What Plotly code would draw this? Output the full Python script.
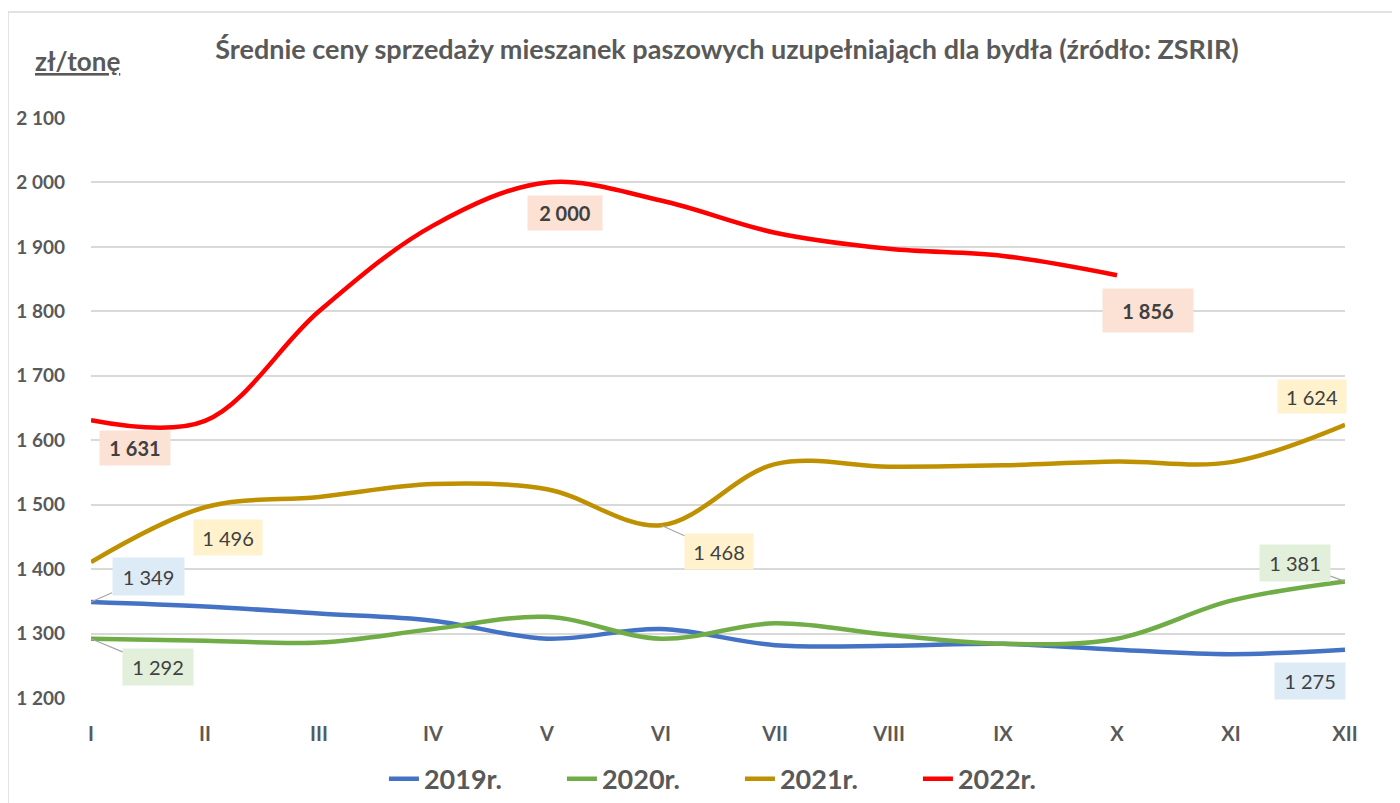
import plotly.graph_objects as go

months = ["I", "II", "III", "IV", "V", "VI", "VII", "VIII", "IX", "X", "XI", "XII"]
y2019 = [1349, 1342, 1331, 1320, 1292, 1307, 1282, 1281, 1284, 1275, 1268, 1275]
y2020 = [1292, 1289, 1286, 1307, 1326, 1292, 1316, 1298, 1284, 1292, 1351, 1381]
y2021 = [1411, 1496, 1512, 1532, 1524, 1468, 1563, 1559, 1561, 1567, 1566, 1624]
y2022 = [1631, 1630, 1800, 1933, 2000, 1972, 1922, 1897, 1886, 1856]

series = [
    ("2019r.", y2019, "#4472C4", "#DDEBF7"),
    ("2020r.", y2020, "#70AD47", "#E2EFDA"),
    ("2021r.", y2021, "#BF9000", "#FFF2CC"),
    ("2022r.", y2022, "#FF0000", "#FBE2D5"),
]

FONT = "Lato"
GREY = "#595959"

fig = go.Figure()
for name, vals, col, _ in series:
    fig.add_trace(go.Scatter(
        x=list(range(len(vals))), y=vals, name=f"<b>{name}</b>", mode="lines",
        line=dict(color=col, width=4.5, shape="spline", smoothing=1.0),
    ))

def fmt(v):
    return f"{v:,}".replace(",", " ")

# (series index, point index, dx, dy (px, up positive), leader, box w, box h)
labels = [
    (0, 0, 57, 25, True, 57, 23),
    (0, 11, -35, -31, False, 56, 22),
    (1, 0, 67, -28, True, 56, 22),
    (1, 11, -50, 18, True, 56, 22),
    (2, 1, 23, -30, False, 54, 21),
    (2, 5, 58, -26, True, 54, 21),
    (2, 11, -33, 28, False, 54, 19),
    (3, 0, 44, -28, False, 56, 20),
    (3, 4, 18, -31, False, 60, 20),
    (3, 9, 31, -35, False, 76, 29),
]
for si, pi, dx, dy, leader, bw, bh in labels:
    name, vals, col, bg = series[si]
    bold = si == 3
    txt = fmt(vals[pi])
    if bold:
        txt = f"<b>{txt}</b>"
    common = dict(x=pi, y=vals[pi], xref="x", yref="y", text=txt,
                  bgcolor=bg, borderpad=7, width=bw, height=bh,
                  font=dict(family=FONT, size=20, color="#404040"))
    if leader:
        fig.add_annotation(**common, showarrow=True, arrowhead=0, arrowwidth=1.2,
                           arrowcolor="#A6A6A6", ax=dx, ay=-dy, standoff=0)
    else:
        fig.add_annotation(**common, showarrow=False, xshift=dx, yshift=dy)

fig.add_annotation(x=-0.011, y=1.098, xref="paper", yref="paper",
                   xanchor="center", yanchor="middle",
                   text="<b><u>zł/tonę</u></b>", showarrow=False,
                   font=dict(family=FONT, size=26, color=GREY))

# outer chart border (left & top)
fig.add_shape(type="line", xref="paper", yref="paper", x0=-0.0662, x1=-0.0662,
              y0=-0.2, y1=1.1828, line=dict(color="#D9D9D9", width=1.5))
fig.add_shape(type="line", xref="paper", yref="paper", x0=-0.0662, x1=1.05,
              y0=1.1828, y1=1.1828, line=dict(color="#D9D9D9", width=1.5))

fig.update_layout(
    width=1400, height=803,
    margin=dict(l=83, r=63, t=110, b=113, autoexpand=False),
    paper_bgcolor="white", plot_bgcolor="white",
    separators=", ",
    title=dict(text="<b>Średnie ceny sprzedaży mieszanek paszowych uzupełniająch dla bydła (źródło: ZSRIR)</b>",
               x=(727 - 8) / 1400, xanchor="center", y=1 - (50 - 8) / 803, yanchor="middle",
               font=dict(family=FONT, size=27, color=GREY)),
    xaxis=dict(tickmode="array", tickvals=list(range(12)), ticktext=[f"<b>{m}</b>" for m in months],
               range=[0, 11], showgrid=False, zeroline=False, showline=False,
               ticks="", ticklabelstandoff=22, automargin=False,
               tickfont=dict(family=FONT, size=20, color=GREY)),
    yaxis=dict(range=[1200, 2100], dtick=100, tickformat=",d",
               gridcolor="#D9D9D9", gridwidth=1.5, zeroline=False, showline=False,
               ticks="", ticklabelstandoff=25, automargin=False,
               tickfont=dict(family=FONT, size=19, color=GREY, weight="bold")),
    legend=dict(orientation="h", x=0.5175, y=-0.14, xanchor="center", yanchor="middle",
                font=dict(family=FONT, size=27, color=GREY),
                entrywidth=133, entrywidthmode="pixels"),
    showlegend=True,
)

fig.write_html("out.html")
